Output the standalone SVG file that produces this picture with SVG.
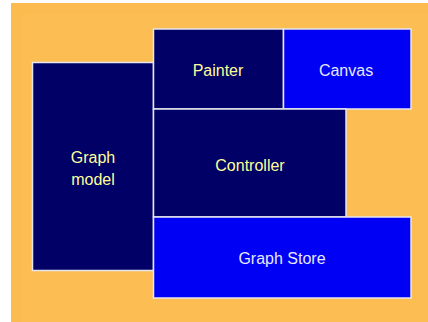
<svg xmlns="http://www.w3.org/2000/svg" width="428" height="322" viewBox="0 0 428 322">
<style>
.box{stroke:#e6e6ee;stroke-width:1.5}
.dark{fill:#000066}
.blue{fill:#0000f5}
text{font-family:"Liberation Sans",Arial,sans-serif;font-size:16px;text-anchor:middle}
.ty{fill:#ffff99}
.tw{fill:#e8e8ff}
</style>
<rect width="428" height="322" fill="#ffffff"/>
<rect x="11" y="3" width="417" height="319" fill="#fbbb4f"/>
<rect x="22" y="14" width="406" height="308" fill="#fcbd52"/>
<g id="graph-model">
<rect class="box dark" x="32.5" y="62.5" width="121" height="208"/>
<text class="ty" x="93" y="163">Graph</text>
<text class="ty" x="93" y="185">model</text>
</g>
<g id="painter">
<rect class="box dark" x="153.5" y="29" width="130" height="80"/>
<text class="ty" x="218" y="76">Painter</text>
</g>
<g id="canvas">
<rect class="box blue" x="283.5" y="29" width="127.5" height="80"/>
<text class="tw" x="346" y="76">Canvas</text>
</g>
<g id="controller">
<rect class="box dark" x="153.5" y="109" width="192.5" height="108"/>
<text class="ty" x="250" y="171">Controller</text>
</g>
<g id="graph-store">
<rect class="box blue" x="153.5" y="217" width="257.5" height="81"/>
<text class="tw" x="282" y="264">Graph Store</text>
</g>
<g id="connectors"/>
</svg>
